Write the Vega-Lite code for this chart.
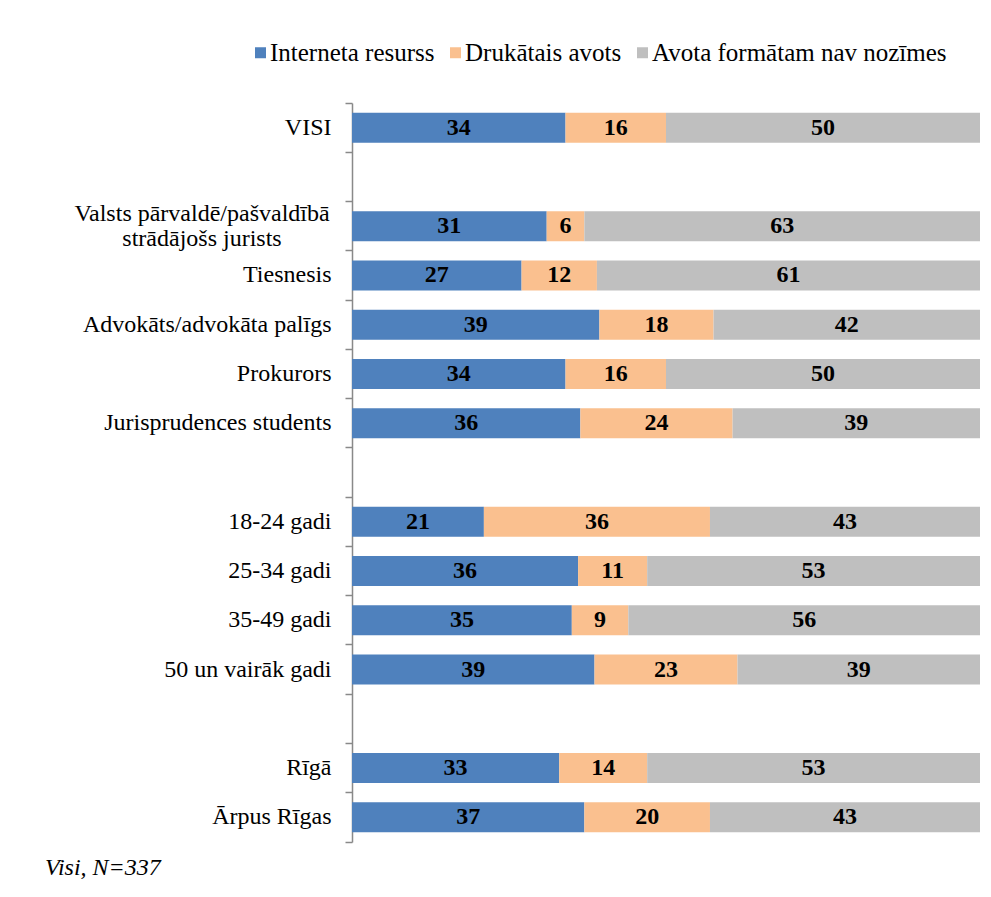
{
  "$schema": "https://vega.github.io/schema/vega-lite/v6.json",
  "width": 628,
  "height": 739,
  "autosize": {"type": "none"},
  "padding": {"left": 352, "top": 103, "right": 11, "bottom": 55},
  "background": "white",
  "config": {"view": {"stroke": null}, "font": "Liberation Serif"},
  "title": {
    "text": "Visi, N=337",
    "orient": "bottom",
    "anchor": "start",
    "frame": "group",
    "dx": -307,
    "offset": 13,
    "font": "Liberation Serif",
    "fontSize": 24,
    "fontStyle": "italic",
    "fontWeight": "normal",
    "color": "black"
  },
  "data": {
    "values": [
      {"cat": "VISI", "series": "Interneta resurss", "k": 0, "v": 34},
      {"cat": "VISI", "series": "Drukātais avots", "k": 1, "v": 16},
      {"cat": "VISI", "series": "Avota formātam nav nozīmes", "k": 2, "v": 50},
      {"cat": "Valsts pārvaldē/pašvaldībā|strādājošs jurists", "series": "Interneta resurss", "k": 0, "v": 31},
      {"cat": "Valsts pārvaldē/pašvaldībā|strādājošs jurists", "series": "Drukātais avots", "k": 1, "v": 6},
      {"cat": "Valsts pārvaldē/pašvaldībā|strādājošs jurists", "series": "Avota formātam nav nozīmes", "k": 2, "v": 63},
      {"cat": "Tiesnesis", "series": "Interneta resurss", "k": 0, "v": 27},
      {"cat": "Tiesnesis", "series": "Drukātais avots", "k": 1, "v": 12},
      {"cat": "Tiesnesis", "series": "Avota formātam nav nozīmes", "k": 2, "v": 61},
      {"cat": "Advokāts/advokāta palīgs", "series": "Interneta resurss", "k": 0, "v": 39},
      {"cat": "Advokāts/advokāta palīgs", "series": "Drukātais avots", "k": 1, "v": 18},
      {"cat": "Advokāts/advokāta palīgs", "series": "Avota formātam nav nozīmes", "k": 2, "v": 42},
      {"cat": "Prokurors", "series": "Interneta resurss", "k": 0, "v": 34},
      {"cat": "Prokurors", "series": "Drukātais avots", "k": 1, "v": 16},
      {"cat": "Prokurors", "series": "Avota formātam nav nozīmes", "k": 2, "v": 50},
      {"cat": "Jurisprudences students", "series": "Interneta resurss", "k": 0, "v": 36},
      {"cat": "Jurisprudences students", "series": "Drukātais avots", "k": 1, "v": 24},
      {"cat": "Jurisprudences students", "series": "Avota formātam nav nozīmes", "k": 2, "v": 39},
      {"cat": "18-24 gadi", "series": "Interneta resurss", "k": 0, "v": 21},
      {"cat": "18-24 gadi", "series": "Drukātais avots", "k": 1, "v": 36},
      {"cat": "18-24 gadi", "series": "Avota formātam nav nozīmes", "k": 2, "v": 43},
      {"cat": "25-34 gadi", "series": "Interneta resurss", "k": 0, "v": 36},
      {"cat": "25-34 gadi", "series": "Drukātais avots", "k": 1, "v": 11},
      {"cat": "25-34 gadi", "series": "Avota formātam nav nozīmes", "k": 2, "v": 53},
      {"cat": "35-49 gadi", "series": "Interneta resurss", "k": 0, "v": 35},
      {"cat": "35-49 gadi", "series": "Drukātais avots", "k": 1, "v": 9},
      {"cat": "35-49 gadi", "series": "Avota formātam nav nozīmes", "k": 2, "v": 56},
      {"cat": "50 un vairāk gadi", "series": "Interneta resurss", "k": 0, "v": 39},
      {"cat": "50 un vairāk gadi", "series": "Drukātais avots", "k": 1, "v": 23},
      {"cat": "50 un vairāk gadi", "series": "Avota formātam nav nozīmes", "k": 2, "v": 39},
      {"cat": "Rīgā", "series": "Interneta resurss", "k": 0, "v": 33},
      {"cat": "Rīgā", "series": "Drukātais avots", "k": 1, "v": 14},
      {"cat": "Rīgā", "series": "Avota formātam nav nozīmes", "k": 2, "v": 53},
      {"cat": "Ārpus Rīgas", "series": "Interneta resurss", "k": 0, "v": 37},
      {"cat": "Ārpus Rīgas", "series": "Drukātais avots", "k": 1, "v": 20},
      {"cat": "Ārpus Rīgas", "series": "Avota formātam nav nozīmes", "k": 2, "v": 43}
    ]
  },
  "transform": [
    {"stack": "v", "groupby": ["cat"], "sort": [{"field": "k", "order": "ascending"}], "offset": "normalize", "as": ["x0", "x1"]},
    {"calculate": "(datum.x0 + datum.x1) / 2", "as": "xm"}
  ],
  "encoding": {
    "y": {
      "field": "cat",
      "type": "nominal",
      "title": null,
      "scale": {
        "domain": ["VISI", " ", "Valsts pārvaldē/pašvaldībā|strādājošs jurists", "Tiesnesis", "Advokāts/advokāta palīgs", "Prokurors", "Jurisprudences students", "  ", "18-24 gadi", "25-34 gadi", "35-49 gadi", "50 un vairāk gadi", "   ", "Rīgā", "Ārpus Rīgas"],
        "paddingInner": 0,
        "paddingOuter": 0
      },
      "axis": {
        "bandPosition": 1,
        "tickExtra": true,
        "tickSize": 7,
        "tickColor": "#898989",
        "domainColor": "#898989",
        "tickWidth": 1.5,
        "domainWidth": 1.5,
        "labelPadding": 14,
        "labelFont": "Liberation Serif",
        "labelFontSize": 24,
        "labelColor": "black",
        "labelLimit": 400,
        "labelExpr": "indexof(datum.label, '|') >= 0 ? '' : datum.label",
        "grid": false
      }
    }
  },
  "layer": [
    {
      "mark": {"type": "bar", "size": 30},
      "encoding": {
        "x": {"field": "x0", "type": "quantitative", "scale": {"domain": [0, 1], "nice": false}, "axis": null},
        "x2": {"field": "x1"},
        "color": {
          "field": "series",
          "type": "nominal",
          "scale": {
            "domain": ["Interneta resurss", "Drukātais avots", "Avota formātam nav nozīmes"],
            "range": ["#4F81BD", "#FAC08F", "#BFBFBF"]
          },
          "legend": {
            "title": null,
            "orient": "none",
            "direction": "horizontal",
            "columns": 3,
            "legendX": -104,
            "legendY": -63,
            "symbolType": "square",
            "symbolSize": 121,
            "symbolStrokeWidth": 0,
            "labelFont": "Liberation Serif",
            "labelFontSize": 25,
            "labelColor": "black",
            "labelOffset": -3,
            "columnPadding": 8,
            "labelLimit": 400
          }
        }
      }
    },
    {
      "mark": {"type": "text", "font": "Liberation Serif", "fontSize": 24, "fontWeight": "bold", "color": "black", "baseline": "middle", "align": "center"},
      "encoding": {
        "x": {"field": "xm", "type": "quantitative"},
        "text": {"field": "v", "type": "quantitative"}
      }
    },
    {
      "transform": [{"filter": "datum.k == 0 && indexof(datum.cat, '|') >= 0"}],
      "mark": {"type": "text", "font": "Liberation Serif", "fontSize": 24, "color": "black", "baseline": "middle", "align": "center", "lineBreak": "|", "lineHeight": 25, "dx": -150, "dy": -12.5},
      "encoding": {
        "x": {"datum": 0, "type": "quantitative"},
        "text": {"field": "cat", "type": "nominal"}
      }
    }
  ]
}
